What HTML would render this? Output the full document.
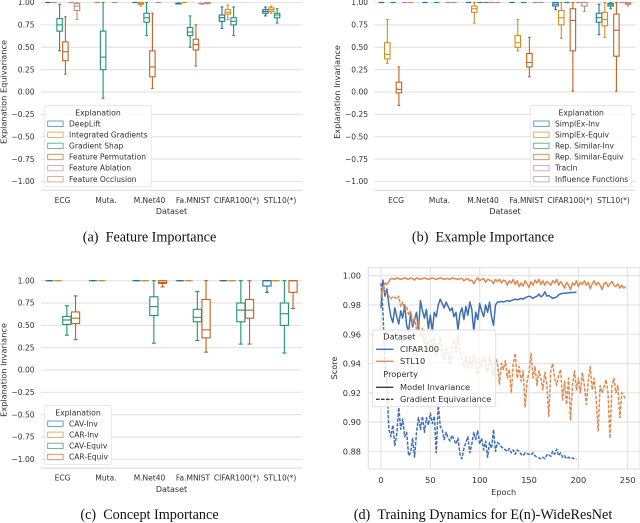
<!DOCTYPE html>
<html lang="en">
<head>
<meta charset="utf-8">
<title>Explanation robustness charts</title>
<style>
html,body{margin:0;padding:0;background:#fff;}
#root{position:absolute;left:0;top:0;width:640px;height:523px;overflow:hidden;}
svg text{font-family:"DejaVu Sans","Liberation Sans",sans-serif;fill:#303030;}
svg text.caption{font-family:"Liberation Serif",serif;fill:#111;font-size:14.2px;}
</style>
</head>
<body>
<div id="root">
<svg id="chart" xmlns="http://www.w3.org/2000/svg" width="640" height="523" viewBox="0 0 640 523"></svg>
</div>
<script>
// ---- shared chart data ----
const categories = ['ECG','Muta.','M.Net40','Fa.MNIST','CIFAR100(*)','STL10(*)'];
const valueTicks = [1,0.75,0.5,0.25,0,-0.25,-0.5,-0.75,-1];
const flat = [1,1,1,1,1];

// Each entry: [low whisker, q1, median, q3, high whisker], one per dataset (null = absent)
const featureMethods = ['DeepLift','Integrated Gradients','Gradient Shap','Feature Permutation','Feature Ablation','Feature Occlusion'];
const deepLift = [flat,null,flat,[0.985,0.985,0.99,0.99,0.995],[0.71,0.79,0.83,0.86,0.95],[0.85,0.88,0.9,0.92,0.95]];
const integratedGradients = [flat,flat,[0.96,0.98,0.99,1,1],flat,[0.81,0.87,0.89,0.92,0.97],[0.88,0.9,0.92,0.94,0.96]];
const gradientShap = [[0.46,0.68,0.75,0.82,0.98],[-0.07,0.25,0.39,0.68,1],[0.63,0.78,0.83,0.88,1],[0.5,0.63,0.67,0.72,0.85],[0.63,0.75,0.79,0.83,0.95],[0.77,0.83,0.86,0.88,0.93]];
const featurePermutation = [[0.2,0.35,0.45,0.56,0.84],null,[0.04,0.17,0.28,0.46,0.88],[0.29,0.47,0.53,0.59,0.75],null,null];
const featureAblation = [flat,flat,flat,[0.98,0.985,0.985,0.99,0.99],null,null];
const featureOcclusion = [[0.81,0.91,0.96,0.99,1],null,null,[0.985,0.99,0.995,1,1],null,null];

const exampleMethods = ['SimplEx-Inv','SimplEx-Equiv','Rep. Similar-Inv','Rep. Similar-Equiv','TracIn','Influence Functions'];
const simplexInv = [flat,flat,flat,flat,[0.92,0.96,0.98,1,1],[0.64,0.78,0.83,0.88,0.98]];
const simplexEquiv = [[0.32,0.37,0.42,0.55,0.81],null,[0.77,0.89,0.93,0.96,1],[0.46,0.5,0.55,0.63,0.81],[0.6,0.75,0.83,0.91,1],[0.61,0.74,0.81,0.89,1]];
const repSimilarInv = [flat,flat,flat,flat,flat,[0.93,0.96,0.975,0.99,1]];
const repSimilarEquiv = [[-0.15,-0.01,0.03,0.11,0.28],null,flat,[0.17,0.28,0.33,0.43,0.61],[0.01,0.46,0.8,0.93,1],[0.01,0.4,0.69,0.87,1]];
const tracIn = [flat,flat,flat,flat,flat,flat];
const influenceFunctions = [flat,flat,flat,flat,[0.9,0.96,1,1,1],[0.96,0.98,0.99,1,1]];

const conceptMethods = ['CAV-Inv','CAR-Inv','CAV-Equiv','CAR-Equiv'];
const cavInv = [flat,flat,flat,flat,flat,[0.87,0.94,1,1,1]];
const carInv = [flat,flat,flat,flat,flat,flat];
const cavEquiv = [[0.39,0.51,0.56,0.6,0.72],null,[0.3,0.61,0.71,0.82,1],[0.33,0.54,0.59,0.68,0.88],[0.29,0.54,0.67,0.75,1],[0.19,0.5,0.63,0.75,1]];
const carEquiv = [[0.34,0.52,0.58,0.65,0.83],null,[0.93,0.97,0.98,1,1],[0.2,0.36,0.45,0.79,1],[0.29,0.58,0.67,0.79,1],[0.69,0.87,1,1,1]];

// ---- training dynamics (one reading every epochStep epochs) ----
const epochStep = 2;
const epochTicks = [0,50,100,150,200,250];
const scoreTicks = [1,0.98,0.96,0.94,0.92,0.9,0.88];
const cifarInvariance = [0.978,0.997,0.986,0.991,0.98,0.972,0.968,0.978,0.972,0.967,0.976,0.971,0.98,0.966,0.962,0.974,0.965,0.97,0.975,0.963,0.983,0.976,0.971,0.977,0.964,0.973,0.962,0.975,0.972,0.98,0.984,0.981,0.978,0.982,0.979,0.976,0.978,0.972,0.975,0.963,0.974,0.978,0.97,0.979,0.973,0.982,0.977,0.962,0.975,0.97,0.981,0.976,0.972,0.98,0.975,0.982,0.972,0.966,0.98,0.982,0.982,0.9825,0.982,0.9825,0.983,0.9825,0.983,0.9835,0.984,0.9835,0.984,0.9845,0.984,0.985,0.9855,0.986,0.9855,0.9845,0.9855,0.986,0.9875,0.9855,0.9865,0.989,0.986,0.9865,0.9855,0.9845,0.985,0.9855,0.987,0.9875,0.988,0.988,0.9882,0.9883,0.9885,0.9885,0.9885,0.989];
const cifarEquivariance = [0.995,0.975,0.94,0.925,0.895,0.89,0.898,0.884,0.892,0.91,0.895,0.902,0.89,0.893,0.877,0.879,0.889,0.876,0.893,0.903,0.895,0.904,0.893,0.903,0.898,0.906,0.899,0.904,0.879,0.913,0.897,0.895,0.888,0.893,0.889,0.887,0.891,0.888,0.885,0.889,0.878,0.875,0.882,0.886,0.89,0.879,0.885,0.893,0.888,0.894,0.885,0.889,0.881,0.887,0.876,0.886,0.882,0.895,0.88,0.886,0.885,0.883,0.882,0.881,0.88,0.882,0.879,0.881,0.878,0.881,0.88,0.878,0.877,0.879,0.8785,0.878,0.8775,0.879,0.877,0.876,0.8755,0.875,0.876,0.875,0.8775,0.878,0.8765,0.88,0.878,0.8815,0.877,0.879,0.876,0.877,0.875,0.876,0.875,0.8755,0.875,0.8745];
const stlInvariance = [0.985,0.992,0.995,0.994,0.996,0.998,0.998,0.9975,0.9985,0.998,0.9975,0.998,0.9985,0.998,0.9975,0.9985,0.998,0.997,0.9985,0.998,0.9975,0.998,0.9985,0.998,0.9975,0.998,0.9985,0.998,0.9975,0.998,0.9985,0.998,0.9975,0.998,0.998,0.9975,0.9985,0.998,0.998,0.9975,0.998,0.998,0.9965,0.9975,0.998,0.9965,0.997,0.9945,0.997,0.9985,0.9965,0.9975,0.998,0.9955,0.9975,0.997,0.9965,0.9945,0.9975,0.996,0.9975,0.995,0.997,0.9965,0.9935,0.9965,0.995,0.9975,0.994,0.9965,0.9925,0.995,0.993,0.9965,0.9945,0.992,0.996,0.9935,0.997,0.995,0.9975,0.994,0.9965,0.9935,0.996,0.995,0.9935,0.9965,0.995,0.9975,0.9935,0.996,0.994,0.9915,0.9955,0.9935,0.9905,0.995,0.9935,0.9965,0.9925,0.9955,0.994,0.9965,0.9935,0.9955,0.991,0.9945,0.9965,0.9935,0.9955,0.9935,0.9905,0.9945,0.9955,0.9925,0.9945,0.996,0.9935,0.9925,0.9945,0.9915,0.9935,0.9915,0.9925];
const stlEquivariance = [0.985,0.992,0.989,0.988,0.986,0.984,0.986,0.985,0.984,0.986,0.979,0.982,0.977,0.979,0.973,0.976,0.967,0.972,0.963,0.969,0.958,0.964,0.953,0.959,0.948,0.957,0.951,0.958,0.945,0.952,0.958,0.948,0.943,0.95,0.947,0.939,0.951,0.956,0.948,0.959,0.95,0.943,0.938,0.945,0.936,0.944,0.938,0.946,0.94,0.932,0.943,0.937,0.945,0.94,0.934,0.945,0.94,0.932,0.944,0.94,0.926,0.94,0.936,0.942,0.93,0.936,0.92,0.94,0.947,0.93,0.938,0.928,0.935,0.91,0.928,0.934,0.947,0.93,0.938,0.925,0.935,0.93,0.922,0.934,0.926,0.904,0.935,0.94,0.93,0.925,0.932,0.936,0.915,0.928,0.912,0.93,0.901,0.925,0.935,0.922,0.93,0.92,0.934,0.925,0.912,0.928,0.938,0.922,0.93,0.915,0.894,0.925,0.92,0.924,0.929,0.92,0.889,0.925,0.93,0.92,0.925,0.903,0.92,0.918,0.915];

// ---- drawing ----
const NS = 'http://www.w3.org/2000/svg';
const svg = document.getElementById('chart');
const boxColors = ['#1f72a3','#cf8f20','#1f9372','#c4621c','#c47dba','#bd9270'];
const GRID = '#e5e5e5';

function mk(tag, attrs, parent, text) {
  const el = document.createElementNS(NS, tag);
  for (const k in attrs) el.setAttribute(k, attrs[k]);
  if (text !== undefined) el.textContent = text;
  parent.appendChild(el);
  return el;
}
function fmt(v, d) { return v.toFixed(d).replace('-', '\u2212'); }

function drawBoxPanel(cfg) {
  const panel = mk('g', {}, svg);
  
  
  const yOf = v => cfg.yOne + (1 - v) * cfg.unit;
  const xOf = i => cfg.xFirst + i * 43.5;

  valueTicks.forEach(v => {
    const g = mk('line', {x1: cfg.left, x2: cfg.left + 261, y1: yOf(v), y2: yOf(v), stroke: GRID, 'stroke-width': 1.2}, panel);
    
    
    const t = mk('text', {x: cfg.left - 6.5, y: yOf(v) + 2.7, 'text-anchor': 'end', 'font-size': 7.5}, panel, fmt(v, 2));
    
    
  });
  const base = mk('line', {x1: cfg.left, x2: cfg.left + 261, y1: yOf(-1) + 8.8, y2: yOf(-1) + 8.8, stroke: '#dedede', 'stroke-width': 1.2}, panel);
  
  

  categories.forEach((c, i) => {
    const t = mk('text', {x: xOf(i), y: yOf(-1) + 21.3, 'text-anchor': 'middle', 'font-size': 7.5}, panel, c);
    
    
  });
  const xt = mk('text', {x: cfg.left + 130.5, y: yOf(-1) + 32.5, 'text-anchor': 'middle', 'font-size': 8}, panel, 'Dataset');
  
  
  const yt = mk('text', {transform: 'translate(' + cfg.yTitleX + ',' + yOf(0) + ') rotate(-90)', 'text-anchor': 'middle', 'font-size': 8.2}, panel, cfg.yTitle);
  
  

  const n = cfg.series.length;
  const slot = 34.8 / n;
  cfg.series.forEach((series, s) => {
    series.forEach((st, i) => {
      if (!st) return;
      const cx = xOf(i) + (s - (n - 1) / 2) * slot;
      const color = boxColors[s];
      const w = slot * 0.94;
      const g = mk('g', {stroke: color, 'stroke-width': 1.1, fill: 'none'}, panel);
      
      
      mk('line', {x1: cx, x2: cx, y1: yOf(st[0]), y2: yOf(st[1])}, g);
      mk('line', {x1: cx, x2: cx, y1: yOf(st[3]), y2: yOf(st[4])}, g);
      mk('line', {x1: cx - w / 4, x2: cx + w / 4, y1: yOf(st[0]), y2: yOf(st[0])}, g);
      mk('line', {x1: cx - w / 4, x2: cx + w / 4, y1: yOf(st[4]), y2: yOf(st[4])}, g);
      mk('rect', {x: cx - w / 2, y: yOf(st[3]), width: w, height: Math.max(0, yOf(st[1]) - yOf(st[3])), fill: '#fff'}, g);
      mk('line', {x1: cx - w / 2, x2: cx + w / 2, y1: yOf(st[2]), y2: yOf(st[2])}, g);
    });
  });

  // legend
  const L = cfg.legend;
  const lg = mk('g', {}, panel);
  
  
  mk('rect', {x: L.x, y: L.y, width: L.w, height: L.h, rx: 1.5, fill: 'rgba(255,255,255,0.85)', stroke: '#e3e3e3', 'stroke-width': 0.8}, lg);
  const title = mk('text', {x: L.x + L.w / 2, y: L.y + 9.6, 'text-anchor': 'middle', 'font-size': 7.7}, lg, 'Explanation');
  
  
  cfg.methods.forEach((m, s) => {
    const ry = L.y + 18 + s * 11.1;
    const e = mk('g', {}, lg);
    
    
    mk('rect', {x: L.x + 3, y: ry - 2.7, width: 15.4, height: 5.4, fill: '#fff', stroke: boxColors[s], 'stroke-width': 0.9, opacity: 0.75}, e);
    mk('text', {x: L.x + 24.3, y: ry + 2.6, 'font-size': 7.55}, e, m);
  });
}

drawBoxPanel({
  name: 'feature-importance-panel', left: 41, xFirst: 62.5, yOne: 2.5, unit: 89.5,
  yTitleX: 6.5, yTitle: 'Explanation Equivariance',
  methods: featureMethods,
  series: [deepLift, integratedGradients, gradientShap, featurePermutation, featureAblation, featureOcclusion],
  legend: {x: 44.7, y: 105.7, w: 106.6, h: 81}
});
drawBoxPanel({
  name: 'example-importance-panel', left: 374.5, xFirst: 396, yOne: 2.5, unit: 89.5,
  yTitleX: 340, yTitle: 'Explanation Invariance',
  methods: exampleMethods,
  series: [simplexInv, simplexEquiv, repSimilarInv, repSimilarEquiv, tracIn, influenceFunctions],
  legend: {x: 530.7, y: 105.7, w: 101, h: 81}
});
drawBoxPanel({
  name: 'concept-importance-panel', left: 41, xFirst: 62.5, yOne: 280.7, unit: 89.3,
  yTitleX: 6.5, yTitle: 'Explanation Invariance',
  methods: conceptMethods,
  series: [cavInv, carInv, cavEquiv, carEquiv],
  legend: {x: 44.7, y: 405.7, w: 66.6, h: 59}
});

// ---- panel d ----
(function () {
  const panel = mk('g', {}, svg);
  
  
  const xOf = e => 381 + e * 0.987;
  const yOf = v => 275.7 + (1 - v) * 1464;
  const frameL = 368.3, frameR = 640, frameT = 267.7, frameB = 469;

  scoreTicks.forEach(v => {
    const g = mk('line', {x1: frameL, x2: frameR, y1: yOf(v), y2: yOf(v), stroke: '#e2e2e2', 'stroke-width': 1.1}, panel);
    
    
    const t = mk('text', {x: 361, y: yOf(v) + 3, 'text-anchor': 'end', 'font-size': 8.2}, panel, v.toFixed(2));
    
    
  });
  epochTicks.forEach(e => {
    const g = mk('line', {x1: xOf(e), x2: xOf(e), y1: frameT, y2: frameB, stroke: '#e2e2e2', 'stroke-width': 1.1}, panel);
    
    
    const t = mk('text', {x: xOf(e), y: 483, 'text-anchor': 'middle', 'font-size': 8.2}, panel, String(e));
    
    
  });
  const frame = mk('rect', {x: frameL, y: frameT, width: frameR - frameL, height: frameB - frameT, fill: 'none', stroke: '#e0e0e0', 'stroke-width': 1.1}, panel);
  
  

  const xt = mk('text', {x: 503.7, y: 495, 'text-anchor': 'middle', 'font-size': 8.2}, panel, 'Epoch');
  
  
  const yt = mk('text', {transform: 'translate(337,368) rotate(-90)', 'text-anchor': 'middle', 'font-size': 8.2}, panel, 'Score');
  
  

  const BLUE = '#3e6fb4', ORANGE = '#e0894f';
  function path(values, color, dash) {
    const d = values.map((v, i) => (i ? 'L' : 'M') + xOf(i * epochStep).toFixed(2) + ' ' + yOf(v).toFixed(2)).join('');
    const attrs = {d: d, fill: 'none', stroke: color, 'stroke-width': 1.5, 'stroke-linejoin': 'round'};
    if (dash) attrs['stroke-dasharray'] = '3.4 1.5';
    return mk('path', attrs, panel);
  }
  const l1 = path(cifarInvariance, BLUE, false);
  
  
  const l2 = path(cifarEquivariance, BLUE, true);
  
  
  const l3 = path(stlInvariance, ORANGE, false);
  
  
  const l4 = path(stlEquivariance, ORANGE, true);
  
  

  const lg = mk('g', {}, panel);
  
  
  mk('rect', {x: 372.7, y: 330, width: 123, height: 76.7, rx: 1.5, fill: 'rgba(255,255,255,0.8)', stroke: '#dddddd', 'stroke-width': 0.9}, lg);
  const rows = [
    {label: 'Dataset', y: 336.7, head: true},
    {label: 'CIFAR100', y: 349.3, color: BLUE},
    {label: 'STL10', y: 361.3, color: ORANGE},
    {label: 'Property', y: 374, head: true},
    {label: 'Model Invariance', y: 387.3, color: '#3a3a3a'},
    {label: 'Gradient Equivariance', y: 399.3, color: '#3a3a3a', dash: true}
  ];
  rows.forEach(r => {
    const e = mk('g', {}, lg);
    
    
    if (!r.head) {
      const a = {x1: 376, x2: 393.3, y1: r.y, y2: r.y, stroke: r.color, 'stroke-width': 1.4};
      if (r.dash) a['stroke-dasharray'] = '3.6 1.4';
      mk('line', a, e);
    }
    mk('text', {x: r.head ? 383.3 : 400, y: r.y + 2.9, 'font-size': 8.2}, e, r.label);
  });
})();

// ---- captions ----
const c1 = mk('text', {x: 149.5, y: 241.5, 'text-anchor': 'middle', class: 'caption'}, svg, '(a)\u2002Feature Importance');


const c2 = mk('text', {x: 483, y: 241.5, 'text-anchor': 'middle', class: 'caption'}, svg, '(b)\u2002Example Importance');


const c3 = mk('text', {x: 149.5, y: 519, 'text-anchor': 'middle', class: 'caption'}, svg, '(c)\u2002Concept Importance');


const c4 = mk('text', {x: 483, y: 519, 'text-anchor': 'middle', class: 'caption'}, svg, '(d)\u2002Training Dynamics for E(n)-WideResNet');


</script>
</body>
</html>
